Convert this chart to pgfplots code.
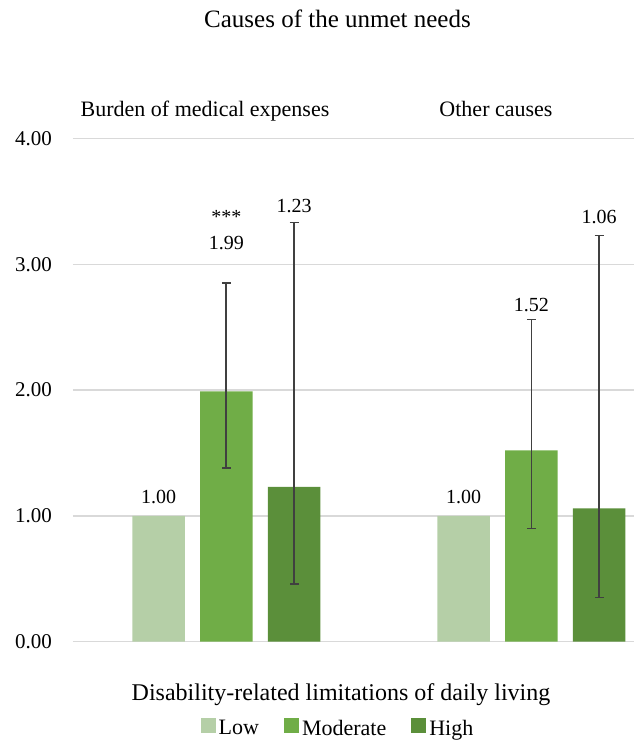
\documentclass[border=0pt]{standalone}
\usepackage{fontspec}
\setmainfont{Liberation Serif}
\usepackage{pgfplots}
\pgfplotsset{compat=1.18}
\definecolor{cLow}{HTML}{B5CFA7}
\definecolor{cMod}{HTML}{70AD47}
\definecolor{cHigh}{HTML}{5B8F3A}
\definecolor{gridc}{HTML}{D9D9D9}
\definecolor{errc}{HTML}{404040}
\begin{document}
\begin{tikzpicture}
\useasboundingbox (-73pt,-100.3pt) rectangle (561pt,641.7pt);
\begin{axis}[
  at={(0pt,0pt)}, anchor=south west,
  scale only axis, width=561pt, height=503.2pt,
  xmin=-0.5026, xmax=1.3367, ymin=0, ymax=4,
  ytick={0,1,2,3,4}, xtick=\empty,
  axis line style={draw=none},
  major tick length=0pt,
  ymajorgrids, grid style={gridc, line width=1.3pt},
  yticklabel style={/pgf/number format/.cd, fixed, fixed zerofill, precision=2, assume math mode=true, /tikz/.cd, anchor=east, inner sep=0pt, xshift=-21pt, font=\fontsize{21}{25}\selectfont},
  clip=false,
  legend columns=3,
  legend image code/.code={\fill[#1] (0pt,-5pt) rectangle (15pt,10pt);},
  legend style={draw=none, fill=none, at={(axis description cs:0.4733,-0.172)}, anchor=center,
    font=\fontsize{22}{26}\selectfont,
    /tikz/every even column/.append style={column sep=22pt},
    nodes={inner sep=3pt}},
  every axis plot/.append style={ybar, bar width=52.5pt, bar shift=0pt, draw=none},
]
\addplot[fill=cLow]
  coordinates {(-0.222,1.00) (0.778,1.00)};
\addlegendentry{Low}
\addplot[fill=cMod,
  error bars/.cd, y dir=both, y explicit,
  error bar style={draw=errc, line width=1.6pt},
  error mark options={rotate=90, mark size=4.5pt, draw=errc, line width=1.4pt}]
  coordinates {(0,1.99) += (0,0.86) -= (0,0.61) (1,1.52) += (0,1.04) -= (0,0.62)};
\addlegendentry{Moderate}
\addplot[fill=cHigh,
  error bars/.cd, y dir=both, y explicit,
  error bar style={draw=errc, line width=1.6pt},
  error mark options={rotate=90, mark size=4.5pt, draw=errc, line width=1.4pt}]
  coordinates {(0.222,1.23) += (0,2.10) -= (0,0.77) (1.222,1.06) += (0,2.17) -= (0,0.71)};
\addlegendentry{High}
\begin{scope}[every node/.style={font=\fontsize{20}{24}\selectfont}]
\node at (axis cs:-0.222,1.153) {1.00};
\node at (axis cs:0.778,1.153) {1.00};
\node at (axis cs:0,3.17) {1.99};
\node at (axis cs:0,3.38) {***};
\node at (axis cs:0.222,3.46) {1.23};
\node at (axis cs:1,2.68) {1.52};
\node at (axis cs:1.222,3.38) {1.06};
\end{scope}
\end{axis}
\node[anchor=base, font=\fontsize{25}{30}\selectfont] at (264.5pt,613.7pt) {Causes of the unmet needs};
\node[anchor=base, font=\fontsize{22}{26}\selectfont] at (132pt,524.7pt) {Burden of medical expenses};
\node[anchor=base, font=\fontsize{22}{26}\selectfont] at (423pt,524.7pt) {Other causes};
\node[anchor=base, font=\fontsize{24}{28}\selectfont] at (268pt,-58.3pt) {Disability-related limitations of daily living};
\end{tikzpicture}
\end{document}
